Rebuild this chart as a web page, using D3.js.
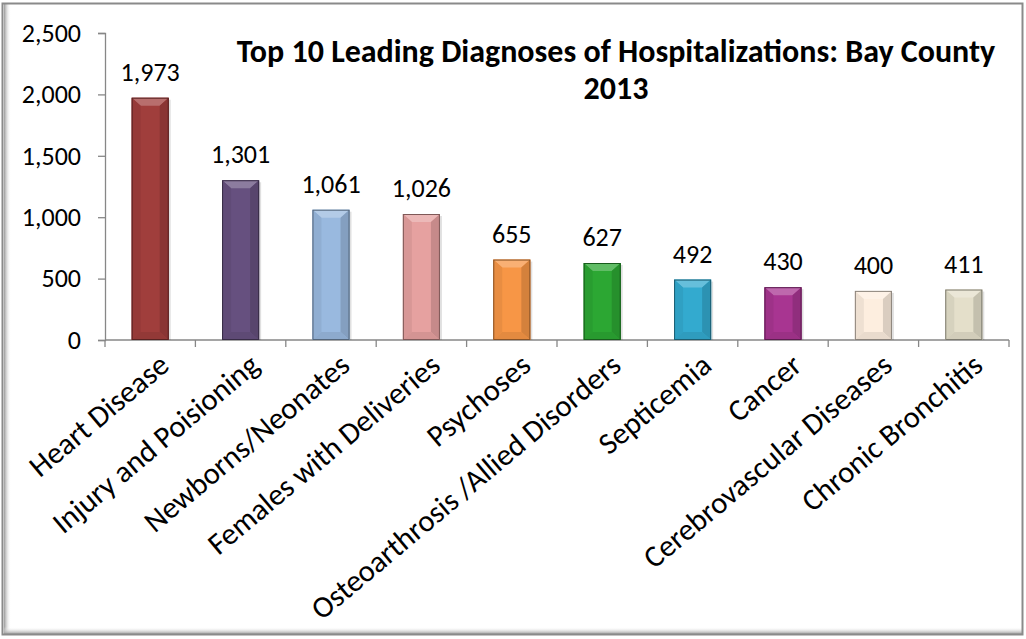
<!DOCTYPE html>
<html>
<head>
<meta charset="utf-8">
<script src="https://cdn.jsdelivr.net/npm/d3@7"></script>
<style>
html,body{margin:0;padding:0;background:#fff;}
svg{display:block;font-family:Carlito,Calibri,Lato,sans-serif;}
</style>
</head>
<body>
<svg id="chart" width="1026" height="639"></svg>
<script>
const categories = ["Heart Disease","Injury and Poisioning","Newborns/Neonates","Females with Deliveries","Psychoses","Osteoarthrosis /Allied Disorders","Septicemia","Cancer","Cerebrovascular Diseases","Chronic Bronchitis"];
const values = [1973,1301,1061,1026,655,627,492,430,400,411];
const barColors = ["#A03E3C","#66507F","#99B9DF","#E6A1A0","#F79646","#2CA733","#33AACF","#A83591","#FDEEDF","#E4DFCA"];
const yTicks = [0,500,1000,1500,2000,2500];
const titleLines = ["Top 10 Leading Diagnoses of Hospitalizations: Bay County","2013"];

const svg = d3.select("#chart");
const W = 1026, H = 639;
const defs = svg.append("defs");

const gl = defs.append("linearGradient").attr("id","shL").attr("x1",0).attr("x2",1).attr("y1",0).attr("y2",0);
gl.append("stop").attr("offset",0).attr("stop-color","#9a9a9a");
gl.append("stop").attr("offset",1).attr("stop-color","#ffffff").attr("stop-opacity",0);
const gb = defs.append("linearGradient").attr("id","shB").attr("x1",0).attr("x2",0).attr("y1",1).attr("y2",0);
gb.append("stop").attr("offset",0).attr("stop-color","#9a9a9a");
gb.append("stop").attr("offset",1).attr("stop-color","#ffffff").attr("stop-opacity",0);

svg.append("rect").attr("x",0).attr("y",0).attr("width",W).attr("height",H).attr("fill","#fff");
svg.append("rect").attr("x",4).attr("y",4).attr("width",7).attr("height",630).attr("fill","url(#shL)");
svg.append("rect").attr("x",4).attr("y",627).attr("width",1018).attr("height",7).attr("fill","url(#shB)");
svg.append("rect").attr("x",2.5).attr("y",3.5).attr("width",1020).attr("height",631)
  .attr("fill","none").attr("stroke","#8a8a8a").attr("stroke-width",2);

const x0 = 105, x1 = 1009, yTop = 33, yBot = 340;
const x = d3.scaleBand().domain(categories).range([x0,x1]).paddingInner(0.59).paddingOuter(0.295);
const y = d3.scaleLinear().domain([0,2500]).range([yBot,yTop]);

const axisColor = "#878787";
const yAxis = d3.axisLeft(y).tickValues(yTicks).tickFormat(d3.format(",")).tickSize(7).tickPadding(17);
const gy = svg.append("g").attr("transform",`translate(${x0},0)`).call(yAxis);
gy.select(".domain").attr("stroke",axisColor).attr("stroke-width",1.3);
gy.selectAll(".tick line").attr("stroke",axisColor).attr("stroke-width",1.3);
gy.selectAll(".tick text").attr("font-size",26).attr("fill","#000").attr("font-family","Carlito,Calibri,Lato,sans-serif");

const step = x.step();
const bounds = d3.range(categories.length+1).map(i => x0 + i*step);
svg.append("line").attr("x1",x0).attr("x2",x1).attr("y1",yBot).attr("y2",yBot).attr("stroke",axisColor).attr("stroke-width",1.3);
svg.selectAll("line.xt").data(bounds).enter().append("line").attr("class","xt")
  .attr("x1",d=>d).attr("x2",d=>d).attr("y1",yBot).attr("y2",yBot+7).attr("stroke",axisColor).attr("stroke-width",1.3);

function shade(c,k){ return k>0? d3.interpolateRgb(c,"#fff")(k) : d3.interpolateRgb(c,"#000")(-k); }
const bw = x.bandwidth();
const bars = svg.append("g");
categories.forEach((cat,i)=>{
  const c = barColors[i];
  const bx = x(cat), by = y(values[i]), bh = yBot - by;
  const b = Math.min(9, bh/2), bv = 8;
  const g = bars.append("g");
  g.append("rect").attr("x",bx+2).attr("y",by+2).attr("width",bw).attr("height",bh-2).attr("fill","#000").attr("opacity",0.12);
  g.append("rect").attr("x",bx).attr("y",by).attr("width",bw).attr("height",bh).attr("fill",c);
  g.append("polygon").attr("points",[[bx,by],[bx+bw,by],[bx+bw-b,by+bv],[bx+b,by+bv]].map(p=>p.join(",")).join(" "))
    .attr("fill",shade(c,0.25));
  g.append("polygon").attr("points",[[bx,by],[bx+b,by+bv],[bx+b,yBot-bv],[bx,yBot]].map(p=>p.join(",")).join(" "))
    .attr("fill",shade(c,-0.06));
  g.append("polygon").attr("points",[[bx+bw,by],[bx+bw-b,by+bv],[bx+bw-b,yBot-bv],[bx+bw,yBot]].map(p=>p.join(",")).join(" "))
    .attr("fill",shade(c,-0.14));
  g.append("polygon").attr("points",[[bx,yBot],[bx+b,yBot-bv],[bx+bw-b,yBot-bv],[bx+bw,yBot]].map(p=>p.join(",")).join(" "))
    .attr("fill",shade(c,-0.08));
  g.append("rect").attr("x",bx+0.5).attr("y",by+0.5).attr("width",bw-1).attr("height",bh-1)
    .attr("fill","none").attr("stroke",shade(c,-0.45)).attr("stroke-width",1);
});

svg.append("g").selectAll("text").data(categories).enter().append("text")
  .attr("x",d=>x(d)+bw/2).attr("y",(d,i)=>y(values[i])-17)
  .attr("text-anchor","middle").attr("font-size",26).attr("fill","#000")
  .text((d,i)=>d3.format(",")(values[i]));

svg.append("g").selectAll("text").data(categories).enter().append("text")
  .attr("transform",d=>`translate(${x(d)+bw/2+7},${yBot+12}) rotate(-40)`)
  .attr("text-anchor","end").attr("dy","0.7em").attr("font-size",30.5).attr("fill","#000")
  .text(d=>d);

svg.append("g").selectAll("text").data(titleLines).enter().append("text")
  .attr("x",616).attr("y",(d,i)=>62+i*37)
  .attr("text-anchor","middle").attr("font-size",32).attr("font-weight","bold").attr("fill","#000")
  .text(d=>d);
</script>
</body>
</html>
